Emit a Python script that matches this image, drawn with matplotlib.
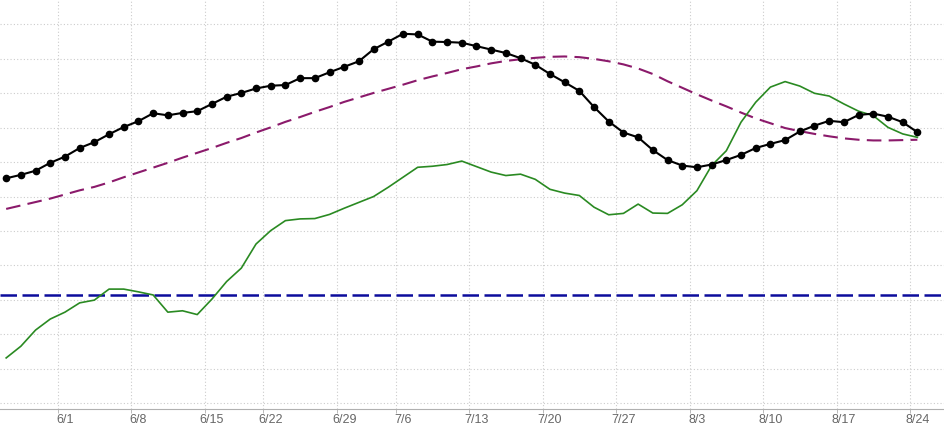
import matplotlib.pyplot as plt
from matplotlib.ticker import FixedLocator

# trading days 5/25 .. 8/24 (index on a category axis)
n_days = 63
tick_idx = [4, 9, 14, 18, 23, 27, 32, 37, 42, 47, 52, 57, 62]
tick_labels = ['6/1', '6/8', '6/15', '6/22', '6/29', '7/6', '7/13',
               '7/20', '7/27', '8/3', '8/10', '8/17', '8/24']

price = [65.3, 66.3, 67.5, 69.8, 71.6, 74.1, 75.8, 78.1, 80.2, 81.9,
         84.2, 83.6, 84.3, 84.8, 86.9, 89.0, 90.1, 91.4, 92.2, 92.4,
         94.4, 94.4, 96.1, 97.7, 99.3, 102.8, 105.0, 107.3, 107.1, 105.0,
         104.9, 104.7, 103.7, 102.7, 101.7, 100.2, 98.3, 95.6, 93.2, 90.7,
         86.0, 81.8, 78.6, 77.2, 73.5, 70.6, 69.0, 68.5, 69.3, 70.6,
         72.1, 74.1, 75.3, 76.4, 78.9, 80.6, 82.0, 81.6, 83.7, 84.1,
         83.2, 81.6, 78.7]

slow_avg = [56.4, 57.4, 58.4, 59.4, 60.6, 61.8, 62.8, 64.1, 65.6, 67.0,
            68.4, 69.8, 71.3, 72.7, 74.1, 75.6, 77.0, 78.6, 80.1, 81.7,
            83.1, 84.6, 86.0, 87.5, 88.8, 90.1, 91.3, 92.5, 93.8, 94.9,
            95.9, 97.0, 97.8, 98.7, 99.4, 99.9, 100.3, 100.6, 100.7, 100.5,
            100.0, 99.3, 98.4, 97.2, 95.6, 93.5, 91.6, 89.7, 87.9, 86.2,
            84.4, 82.7, 81.3, 79.9, 79.0, 78.2, 77.5, 76.9, 76.5, 76.3,
            76.3, 76.4, 76.5]

indicator = [13.1, 16.5, 21.2, 24.4, 26.4, 29.1, 29.9, 33.1, 33.1, 32.3,
             31.4, 26.4, 26.8, 25.7, 30.2, 35.3, 39.2, 46.2, 50.1, 53.0,
             53.5, 53.6, 54.8, 56.6, 58.3, 60.0, 62.7, 65.6, 68.5, 68.8,
             69.3, 70.3, 68.7, 67.1, 66.1, 66.5, 65.0, 62.1, 61.0, 60.3,
             56.9, 54.7, 55.1, 57.8, 55.2, 55.1, 57.6, 61.7, 69.0, 73.3,
             81.6, 87.4, 91.8, 93.4, 92.1, 90.0, 89.2, 86.9, 84.8, 83.5,
             80.1, 78.2, 77.2]

level = 31.4

x = list(range(n_days))

fig = plt.figure(figsize=(9.45, 4.27), dpi=100)
ax = fig.add_axes([0, 17 / 427, 1, 410 / 427])

ax.axhline(level, color='#0c0c9c', lw=1.8, dashes=(6.6, 2.2), zorder=2)
ax.plot(x, slow_avg, color='#8b1a6b', lw=1.5, dashes=(7, 3.5), zorder=3)
ax.plot(x, indicator, color='#2a8a22', lw=1.2, zorder=4)
ax.plot(x, price, color='black', lw=1.5, marker='o', markersize=4.5, zorder=5)

ax.set_xlim(-0.42, 63.88)
ax.set_ylim(-1.74, 117.4)

# labels on the day, grid lines between days
ax.xaxis.set_major_locator(FixedLocator(tick_idx))
ax.set_xticklabels(tick_labels, family=['Liberation Sans Narrow', 'Liberation Sans'],
                   fontsize=9, color='#666666')
ax.xaxis.set_minor_locator(FixedLocator([i - 0.5 for i in tick_idx]))
ax.tick_params(axis='x', which='major', length=0, pad=3)
ax.tick_params(axis='x', which='minor', length=3, color='#b0b0b0')
ax.grid(axis='x', which='minor', color='#cccccc', linestyle=(0, (1, 2)), lw=0.8)

ax.set_yticks(range(0, 120, 10))
ax.tick_params(axis='y', length=0, labelleft=False)
ax.grid(axis='y', color='#cccccc', linestyle=(0, (1, 2)), lw=0.8)
ax.set_axisbelow(True)

for s in ['top', 'right', 'left']:
    ax.spines[s].set_visible(False)
ax.spines['bottom'].set_color('#b0b0b0')

fig.savefig('out.png', dpi=100)
